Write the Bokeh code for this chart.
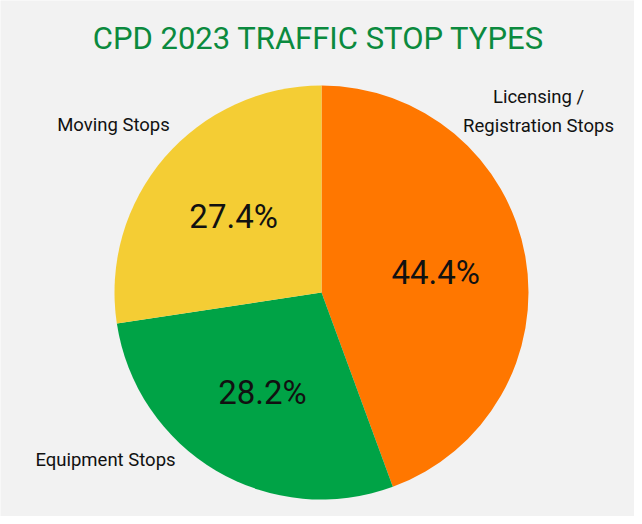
import numpy as np
from bokeh.plotting import figure
from bokeh.models import Range1d, ColumnDataSource
from bokeh.core.properties import value
from bokeh.embed import file_html
from bokeh.resources import INLINE

# ---- data ----
categories = ["Licensing /\nRegistration Stops", "Equipment Stops", "Moving Stops"]
shares = [44.4, 28.2, 27.4]
colors = ["#FF7700", "#00A346", "#F4CD34"]
title = "CPD 2023 TRAFFIC STOP TYPES"

# ---- layout (page px: x right, y down; data y = 524 - py) ----
W, H = 634, 516
cx, cy_px, R = 329, 300, 207
cy = 524 - cy_px

p = figure(width=W, height=H, output_backend="svg", toolbar_location=None,
           x_range=Range1d(8, 8 + W), y_range=Range1d(0, H),
           min_border=0, outline_line_color=None)
p.axis.visible = False
p.grid.visible = False
p.background_fill_color = "#F2F2F2"
p.border_fill_color = "#F2F2F2"

frac = np.array(shares) / np.sum(shares)
cum = np.concatenate([[0], np.cumsum(frac)])
start = np.pi / 2 - cum[:-1] * 2 * np.pi
end = np.pi / 2 - cum[1:] * 2 * np.pi
mid = (start + end) / 2

src = ColumnDataSource(dict(start=start, end=end, color=colors))
p.wedge(x=cx, y=cy, radius=R, start_angle="start", end_angle="end",
        direction="clock", fill_color="color", line_color=None, source=src)

# percent labels
lab_r = 0.56 * R
pct = [f"{s:.1f}%" for s in shares]
p.text(x=cx + lab_r * np.cos(mid), y=cy + lab_r * np.sin(mid), text=pct,
       text_font=value("Roboto"), text_font_size="33px", text_color="#111111",
       text_align="center", text_baseline="middle")

# category labels (page px anchors)
cat_pos = [(546, 119), (113, 467), (121, 132)]
p.text(x=[q[0] for q in cat_pos], y=[524 - q[1] for q in cat_pos], text=categories,
       text_font=value("Roboto"), text_font_size="18.5px", text_color="#111111",
       text_align="center", text_baseline="middle", text_line_height=1.35)

# title
p.text(x=[326], y=[524 - 46], text=[title], text_font=value("Roboto"),
       text_font_size="31px", text_color="#0B8A3E",
       text_align="center", text_baseline="middle")

open("out.html", "w").write(file_html(p, INLINE))
